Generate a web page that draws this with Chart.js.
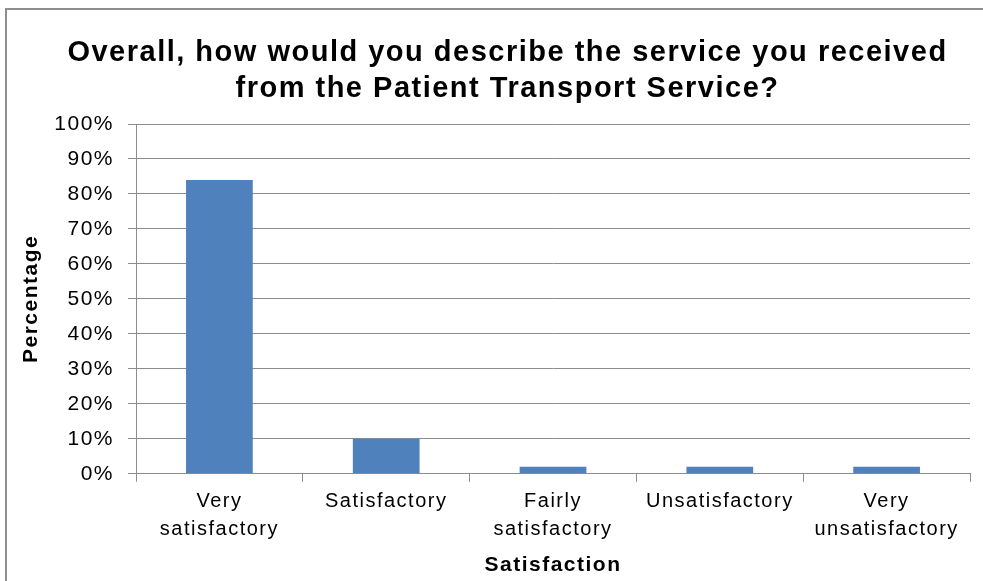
<!DOCTYPE html>
<html>
<head>
<meta charset="utf-8">
<script src="https://cdn.jsdelivr.net/npm/chart.js@4/dist/chart.umd.min.js"></script>
<style>
  html, body { margin: 0; padding: 0; background: #fff; }
  #wrap { position: absolute; left: 0; top: 0; width: 983px; height: 581px; }
  #frame { position: absolute; left: 5px; top: 8px; width: 990px; height: 600px;
           border-top: 2px solid #8e8e8e; border-left: 2px solid #8e8e8e; pointer-events: none; }
</style>
</head>
<body>
<div id="wrap"><canvas id="satisfaction" width="983" height="581"></canvas></div>
<div id="frame"></div>
<script>
const categories = [
  ["Very", "satisfactory"],
  "Satisfactory",
  ["Fairly", "satisfactory"],
  "Unsatisfactory",
  ["Very", "unsatisfactory"]
]
const percentages = [84, 10, 2, 2, 2]

const barColor = "#4f81bd"
const gridColor = "#8c8c8c"
const font = "'Liberation Sans', Arial, sans-serif"
const letterGap = '1.5px'

// the original text is set a little wider than Arial, so space the letters out
const spacing = {
    id: 'spacing',
    afterInit: chart => { chart.ctx.letterSpacing = letterGap },
    beforeUpdate: chart => { chart.ctx.letterSpacing = letterGap },
    beforeDraw: chart => { chart.ctx.letterSpacing = letterGap },
    // title sits a bit right of the canvas centre in the original
    afterLayout: chart => { if (chart.titleBlock) chart.titleBlock.left += 41 }
}

const chart = new Chart(document.getElementById("satisfaction"), {
    type: 'bar',
    data: {
        labels: categories,
        datasets: [{
            label: 'Percentage',
            data: percentages,
            backgroundColor: barColor,
            barPercentage: 0.4,
            categoryPercentage: 1
        }]
    },
    plugins: [spacing],
    options: {
        responsive: false,
        animation: false,
        layout: { padding: { left: 4, right: 13, top: 4, bottom: 3 } },
        plugins: {
            legend: { display: false },
            tooltip: { enabled: false },
            title: {
                display: true,
                text: ["Overall, how would you describe the service you received", "from the Patient Transport Service?"],
                color: '#000',
                font: { family: font, size: 29, weight: 'bold', lineHeight: 36 / 29 },
                padding: { top: 31, bottom: 17 }
            }
        },
        scales: {
            x: {
                grid: { drawOnChartArea: false, offset: true, color: gridColor, tickLength: 8 },
                border: { color: gridColor },
                ticks: { color: '#000', font: { family: font, size: 20, lineHeight: 1.4 }, padding: 6, maxRotation: 0, autoSkip: false },
                title: {
                    display: true, text: 'Satisfaction', color: '#000',
                    font: { family: font, size: 21, weight: 'bold' }, padding: { top: 3, bottom: 0 }
                }
            },
            y: {
                min: 0,
                max: 100,
                grid: { color: gridColor, tickLength: 8 },
                border: { color: gridColor },
                afterFit: scale => { scale.width = 132 },
                ticks: {
                    stepSize: 10, color: '#000', padding: 14,
                    font: { family: font, size: 21 },
                    callback: v => v + '%'
                },
                title: {
                    display: true, text: 'Percentage', color: '#000',
                    font: { family: font, size: 21, weight: 'bold' }, padding: { top: 15, bottom: 7 }
                }
            }
        }
    }
})
</script>
</body>
</html>
